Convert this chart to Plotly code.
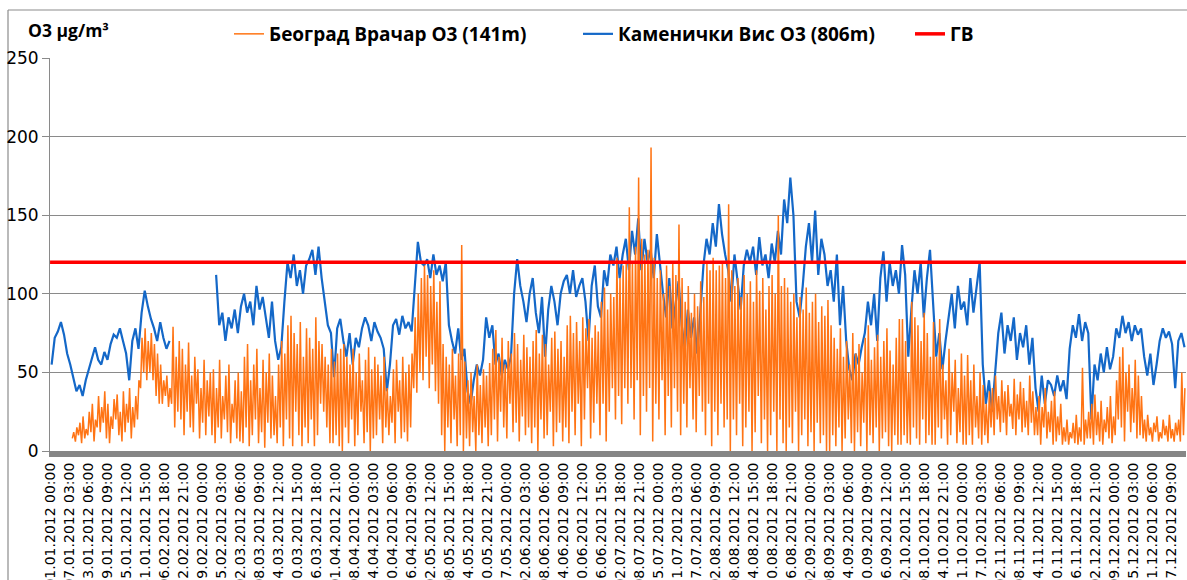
import plotly.graph_objects as go

# ---------------- data ----------------
# Day index 0..365 of 2012. Belgrade (Vračar): daily night minimum and afternoon maximum.
vracar_min = (
    [None]*7 + [8,6,10,5,8,10,12,6] + [15,12,18,8,5,14,20,10,6,12,18,8,15,20] + [40,50] +            # Jan
    [45] + [50,45,35,30] + [30,35,28] + [30,15,25] + [20,10,25,15,12,30,8,18,10,22] + [10,5,15,8,20,12,5,18] +  # Feb
    [8,6] + [5,15,3,10,20,5,12,2,18,8,10] + [5,15,3,20,8,3,25,10,3,15,5,20,3,10] + [30,25,15,5] +   # Mar
    [5,10,3] + [0,15,5,20,3,10,25,5,12,0,8] + [10,20,5,15,10,18,5,25,8,12,6,15] + [40,37,50,45] +   # Apr
    [60,40,55,38,30] + [10,0,15,5,20,3,10] + [0,8,3,12,0,10,5,15,3] + [10,20,6,25,15,8,30,12,18,6] +  # May
    [22,10,15] + [5,15,0,20,8,10,25,3,12,18,6] + [15,5,25,10,30,3,20,40,8,18,30] + [10,30,6,25,40] +  # Jun
    [20,35,17,40] + [30,40,20,45,10,35,25,40] + [6,30,20,45,10,35,15,40,25] + [10,30,15,40,20,12,35,25,10,30] +  # Jul
    [3,25,10,30,15,20] + [0,20,10,30,3,15,25,0,12,35,5,20,0,10,25] + [0,20,5] + [0,15,5,25,0,10,20] +  # Aug
    [3,12,0,18,5,10,0] + [0,10,3,15,0,8,20,5,0,12,3,18,0,10,5,15,0,8,12,3,0,10,4] +                  # Sep
    [4,10,5] + [4,15,8,4,20,5,10,4] + [4,15,8,20,4,10,25,5,12,4] + [4,10,4,15,8,4,10,5] + [15,10] +  # Oct
    [20,12,18,10,22,14,10,20,12,15,10,18,10] + [10,4,15,8,12,4,6,10] + [4,6,4,8,5,4,6,4,8] +          # Nov
    [8,4,10,6,4,12,8,5] + [10,20,15,6,25,12,18,8,10] + [8,6,10,6,12,6,8,10,6,8,6,10] + [6,10]         # Dec
)
vracar_max = (
    [None]*7 + [12,15,18,22,14,25,30,20] + [35,28,38,30,22,33,36,25,38,30,40,28,35,45] + [72,78] +
    [70] + [75,68,62,55] + [45,48,40] + [79,60,70] + [65,55,69,48,60,52,40,58,45,50] + [52,40,58,35,48,55,30,45] +
    [50,38] + [60,68,45,55,65,40,58,50,62,48,35] + [55,70,62,80,86,75,68,82,60,78,72,65,85,70] + [68,60,55,65] +
    [57,62,65] + [68,60,55,65,50,62,45,58,66,52,60] + [55,48,60,40,35,52,58,45,60,50,55,62] + [85,100,110,118] +
    [112,105,115,95,108] + [68,60,55,65,48,62,131] + [57,45,50,35,55,42,52,48,56] + [65,77,60,72,55,70,62,75,68,58] +
    [74,66,60] + [70,77,62,74,68,55,72,76,65,70,60] + [80,86,75,82,70,85,78,84,72,80,76] + [95,104,90,100,98] +
    [123,110,118,120] + [155,120,130,174,135,125,128,193] + [123,110,115,100,118,105,120,112,144] + [110,95,105,88,100,92,108,98,120,115] +
    [123,115,118,120,110,157] + [115,105,110,98,112,100,108,95,115,102,110,90,105,112,100] + [150,105,110] + [104,95,100,85,98,90,104] +
    [88,95,100,82,92,86,96] + [80,72,65,78,60,70,55,75,62,68,50,72,80,58,66,74,60,70,78,64,55,72,84] +
    [84,70,50] + [95,85,80,70,88,75,60,82] + [60,84,55,45,65,50,58,40,62,48] + [61,45,55,35,50,42,30,38] + [40,48] +
    [35,45,38,42,30,46,36,44,40,32,48,38,28] + [35,28,40,25,32,38,22,30] + [15,20,12,18,23,15,53,20,25] +
    [30,36,25,32,20,28,35,22] + [45,60,66,50,55,40,58,48,35] + [20,23,15,18,22,12,20,16,23,14,18,20] + [50,40]
)
# Kamenički Vis: one value per day
kamenicki = (
    [55,72,76,82,74,62,55,46,38,42,35,45,52,60,66,58,55,63,58,68,74,72,78,70,62,45,70,78,65,88,102] +
    [92,84,78,70,82,72,65,70] + [None]*14 + [112,80,88,70,85,78,90] +
    [75,92,100,88,95,80,105,90,98,85,72,95,70,58,66,95,120,110,125,105,115,100,118,122,128,112,130,110,95,80,75] +
    [47,78,84,70,60,75,55,72,66,78,85,80,70,82,76,72,65,38,55,80,84,74,86,78,82,76,105,133,120,118] +
    [122,110,125,112,118,108,120,80,70,62,78,58,65,38,30,45,55,48,58,85,72,80,55,62,48,58,52,60,100,122,105] +
    [95,82,100,110,88,75,98,60,90,105,95,80,100,108,112,100,115,98,105,110,95,70,105,118,92,85,115,105,125,118] +
    [130,110,125,135,115,140,125,148,115,135,120,128,110,138,118,100,85,110,78,95,108,80,65,90,72,85,62,88,118,135,125] +
    [145,130,157,138,125,115,95,125,108,90,118,128,120,130,112,136,118,125,110,132,120,140,125,160,145,174,150,95,85,105,130] +
    [145,120,153,112,135,125,105,115,95,125,80,105,70,52,45,62,55,66,75,95,80,100,70,110,127,95,120,105,115,100] +
    [131,112,60,90,115,100,120,85,110,128,95,60,75,52,70,85,100,78,105,90,95,80,110,88,105,120,55,30,45,25,50] +
    [75,88,62,80,70,85,58,75,66,80,55,72,40,25,48,30,45,42,35,48,38,45,33,65,80,72,87,70,82,75] +
    [20,55,45,62,50,66,52,60,78,72,86,75,82,70,80,74,78,60,48,62,42,55,70,78,72,76,68,40,70,75,66]
)
limit_value = 120  # ГВ

tick_labels = [
    "01.01.2012 00:00", "07.01.2012 03:00", "13.01.2012 06:00", "19.01.2012 09:00", "25.01.2012 12:00",
    "31.01.2012 15:00", "06.02.2012 18:00", "12.02.2012 21:00", "19.02.2012 00:00", "25.02.2012 03:00",
    "02.03.2012 06:00", "08.03.2012 09:00", "14.03.2012 12:00", "20.03.2012 15:00", "26.03.2012 18:00",
    "01.04.2012 21:00", "08.04.2012 00:00", "14.04.2012 03:00", "20.04.2012 06:00", "26.04.2012 09:00",
    "02.05.2012 12:00", "08.05.2012 15:00", "14.05.2012 18:00", "20.05.2012 21:00", "27.05.2012 00:00",
    "02.06.2012 03:00", "08.06.2012 06:00", "14.06.2012 09:00", "20.06.2012 12:00", "26.06.2012 15:00",
    "02.07.2012 18:00", "08.07.2012 21:00", "15.07.2012 00:00", "21.07.2012 03:00", "27.07.2012 06:00",
    "02.08.2012 09:00", "08.08.2012 12:00", "14.08.2012 15:00", "20.08.2012 18:00", "26.08.2012 21:00",
    "02.09.2012 00:00", "08.09.2012 03:00", "14.09.2012 06:00", "20.09.2012 09:00", "26.09.2012 12:00",
    "02.10.2012 15:00", "08.10.2012 18:00", "14.10.2012 21:00", "21.10.2012 00:00", "27.10.2012 03:00",
    "02.11.2012 06:00", "08.11.2012 09:00", "14.11.2012 12:00", "20.11.2012 15:00", "26.11.2012 18:00",
    "02.12.2012 21:00", "09.12.2012 00:00", "15.12.2012 03:00", "21.12.2012 06:00", "27.12.2012 09:00",
]
HOURS = 366 * 24
TICK_STEP = 147  # hours between category labels

# ---------------- build hourly positions ----------------
vx, vy = [], []
for d, (lo, hi) in enumerate(zip(vracar_min, vracar_max)):
    vx += [d * 24 + 4, d * 24 + 15]
    vy += [lo, hi]
kx = [d * 24 + 12 for d in range(len(kamenicki))]

FONT_TICK = "DejaVu Sans"
FONT_BOLD = "Open Sans"

L, R, T, B = 50, 1, 58, 129
W, H = 1187, 580
pw, ph = W - L - R, H - T - B


def px_x(x):
    return (x - L) / pw


def px_y(y):
    return (H - B - y) / ph


fig = go.Figure()
fig.add_trace(go.Scatter(x=kx, y=kamenicki, mode="lines", name="Каменички Вис О3 (806m)",
                         line=dict(color="#1468C8", width=2.2), legend="legend2", connectgaps=False))
fig.add_trace(go.Scatter(x=vx, y=vy, mode="lines", name="Београд Врачар О3 (141m)",
                         line=dict(color="#FF7414", width=1.5), legend="legend", connectgaps=False))
fig.add_trace(go.Scatter(x=[0, HOURS - 1], y=[limit_value, limit_value], mode="lines", name="ГВ",
                         line=dict(color="#FF0000", width=3.5), legend="legend3"))

legend_font = dict(family=FONT_BOLD, size=19, color="black", weight="bold")


def leg(text_x):
    return dict(orientation="h", x=px_x(text_x - 41), xanchor="left", y=px_y(34), yanchor="middle",
                font=legend_font, bgcolor="rgba(0,0,0,0)", itemwidth=30)


fig.update_layout(
    width=W, height=H,
    margin=dict(l=L, r=R, t=T, b=B, autoexpand=False),
    paper_bgcolor="white", plot_bgcolor="white",
    showlegend=True,
    legend=leg(270), legend2=leg(619), legend3=leg(951),
    xaxis=dict(range=[-0.5, HOURS - 0.5], tickmode="array",
               tickvals=[i * TICK_STEP for i in range(len(tick_labels))], ticktext=tick_labels,
               tickangle=-90, tickfont=dict(family=FONT_TICK, size=14, color="black"),
               showgrid=False, zeroline=False, showline=True, linecolor="#868686", linewidth=6,
               ticks="", automargin=False),
    yaxis=dict(range=[0, 250], dtick=50, tick0=0, showgrid=True, gridcolor="#8A8A8A", gridwidth=1,
               zeroline=False, showline=True, linecolor="#8A8A8A", linewidth=1,
               ticks="outside", ticklen=7, tickcolor="#8A8A8A",
               tickfont=dict(family=FONT_TICK, size=17, color="black"), automargin=False),
    annotations=[dict(text="<b>O3 µg/m³</b>", xref="paper", yref="paper", x=px_x(26), y=px_y(30),
                      xanchor="left", yanchor="middle", showarrow=False,
                      font=dict(family=FONT_BOLD, size=17.5, color="black"))],
    shapes=[
        dict(type="line", xref="paper", yref="paper", x0=px_x(8), x1=px_x(W + 5),
             y0=px_y(10), y1=px_y(10), line=dict(color="#8C8C8C", width=1.2), layer="below"),
        dict(type="line", xref="paper", yref="paper", x0=px_x(8), x1=px_x(8),
             y0=px_y(10), y1=px_y(H + 5), line=dict(color="#8C8C8C", width=1.2), layer="below"),
    ],
)

fig.write_html("out.html", config={"displayModeBar": False},
               post_script="document.body.style.margin='0';document.body.style.overflow='hidden';")
